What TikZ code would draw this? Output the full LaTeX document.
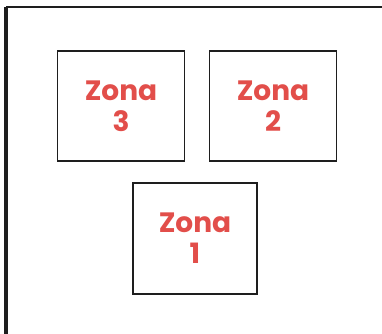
\documentclass[tikz,border=0pt]{standalone}
\usepackage{fontspec}
\newfontfamily\zonafont{Poppins}[UprightFont=* Bold]
\definecolor{zonared}{RGB}{226,78,74}
\definecolor{framegray}{RGB}{30,30,30}
\tikzset{
  zonabox/.style={draw=framegray,line width=1.5pt,fill=white,
    minimum width=127pt,minimum height=110pt,inner sep=0pt,
    align=center,text=zonared,font=\zonafont\fontsize{28}{31}\selectfont},
}

\begin{document}
\begin{tikzpicture}[x=1pt,y=-1pt]
  \useasboundingbox (0,0) rectangle (382,333);
  \fill[white] (0,0) rectangle (382,333);
  % outer wall
  \coordinate (wallcorner) at (6,7);
  \coordinate (wallright) at (384,7);
  \coordinate (wallbottom) at (6,335);
  \draw[framegray,line width=2.5pt] (wallright)--(wallcorner);
  \draw[framegray,line width=3.5pt] (wallcorner)--(wallbottom);
  % zones
  \node[zonabox] (zona3) at (121,106) {Zona\\3};
  \node[zonabox] (zona2) at (273,106) {Zona\\2};
  \node[zonabox,minimum width=124pt,minimum height=111pt] (zona1) at (195,238.5) {Zona\\1};
\end{tikzpicture}
\end{document}
